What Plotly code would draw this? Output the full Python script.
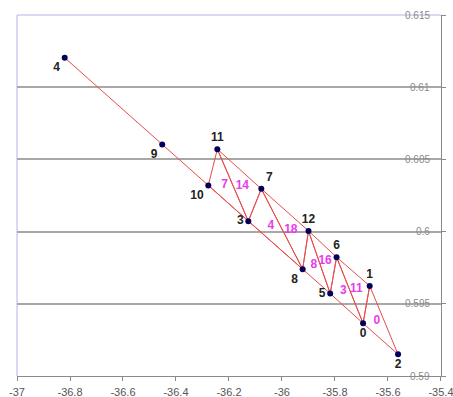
import plotly.graph_objects as go

# Node coordinates (node id -> x, y)
node_ids = [0, 1, 2, 3, 4, 5, 6, 7, 8, 9, 10, 11, 12]
node_x = [-35.694, -35.669, -35.562, -36.127, -36.820, -35.818, -35.794,
          -36.078, -35.922, -36.452, -36.278, -36.244, -35.900]
node_y = [0.59365, 0.59624, 0.59150, 0.60072, 0.61204, 0.59571, 0.59823,
          0.60296, 0.59740, 0.60604, 0.60320, 0.60571, 0.60005]

# Labelled triangles: id and their three vertex nodes
tri_ids = [0, 3, 4, 7, 8, 11, 14, 16, 18]
tri_a = [0, 5, 3, 10, 8, 6, 11, 12, 7]
tri_b = [1, 6, 7, 11, 12, 1, 3, 6, 12]
tri_c = [2, 0, 8, 3, 5, 0, 7, 5, 8]

# Thin slivers along the lower chain
sliver_from = [4, 9, 10]
sliver_to = [9, 10, 8]

# Axis ticks
x_ticks = [-37, -36.8, -36.6, -36.4, -36.2, -36, -35.8, -35.6, -35.4]
x_tick_text = ["-37", "-36.8", "-36.6", "-36.4", "-36.2", "-36", "-35.8", "-35.6", "-35.4"]
y_ticks = [0.59, 0.595, 0.6, 0.605, 0.61, 0.615]
y_tick_text = ["0.59", "0.595", "0.6", "0.605", "0.61", "0.615"]

# Where each node's number sits relative to its marker
label_side = {0: "bottom center", 1: "top center", 2: "bottom center",
              3: "middle left", 4: "bottom left", 5: "middle left",
              6: "top center", 7: "top right", 8: "bottom left",
              9: "bottom left", 10: "bottom left", 11: "top center",
              12: "top center"}

pos = {i: (x, y) for i, x, y in zip(node_ids, node_x, node_y)}

ex, ey = [], []
for a, b, c in zip(tri_a, tri_b, tri_c):
    for p, q in ((a, b), (b, c), (c, a)):
        ex += [pos[p][0], pos[q][0], None]
        ey += [pos[p][1], pos[q][1], None]
for p, q in zip(sliver_from, sliver_to):
    ex += [pos[p][0], pos[q][0], None]
    ey += [pos[p][1], pos[q][1], None]

cx = [(pos[a][0] + pos[b][0] + pos[c][0]) / 3 for a, b, c in zip(tri_a, tri_b, tri_c)]
cy = [(pos[a][1] + pos[b][1] + pos[c][1]) / 3 for a, b, c in zip(tri_a, tri_b, tri_c)]

fig = go.Figure()

fig.add_trace(go.Scatter(
    x=ex, y=ey, mode="lines",
    line=dict(color="rgb(232,75,75)", width=1),
    hoverinfo="skip", showlegend=False, cliponaxis=False))

fig.add_trace(go.Scatter(
    x=node_x, y=node_y, mode="markers+text",
    marker=dict(color="#00005a", size=6),
    text=[str(i) for i in node_ids],
    textposition=[label_side[i] for i in node_ids],
    textfont=dict(family="Liberation Sans, Arial", size=12, color="#222222"),
    texttemplate="<b>%{text}</b>",
    showlegend=False, cliponaxis=False))

fig.add_trace(go.Scatter(
    x=cx, y=cy, mode="text",
    text=[str(t) for t in tri_ids],
    texttemplate="<b>%{text}</b>",
    textfont=dict(family="Liberation Sans, Arial", size=12, color="#e83ce8"),
    showlegend=False))

# darker grid line at 0.595
fig.add_shape(type="line", xref="paper", yref="y", x0=0, x1=1, y0=0.595, y1=0.595,
              line=dict(color="#303030", width=1.5), layer="below")
# light border on left and top
fig.add_shape(type="line", xref="paper", yref="paper", x0=0, x1=0, y0=0, y1=1,
              line=dict(color="#b4b4e6", width=1), layer="below")
fig.add_shape(type="line", xref="paper", yref="paper", x0=0, x1=1, y0=1, y1=1,
              line=dict(color="#b4b4e6", width=1), layer="below")

# y tick labels sit inside the plot, right-aligned just left of the right axis
for v, t in zip(y_ticks, y_tick_text):
    fig.add_annotation(x=1, xref="paper", y=v, yref="y", text=t, showarrow=False,
                       xanchor="right", yanchor="middle", xshift=-9,
                       font=dict(family="Liberation Sans, Arial", size=10, color="#8a8a8a"))

fig.update_layout(
    width=453, height=397,
    margin=dict(l=17, r=12, t=15, b=21),
    paper_bgcolor="white", plot_bgcolor="white",
    font=dict(family="Liberation Sans, Arial", color="#555555"),
    xaxis=dict(range=[-37, -35.3999], tickvals=x_ticks, ticktext=x_tick_text,
               showgrid=False, zeroline=False, showline=True, linecolor="#8a8a8a",
               ticks="outside", ticklen=4, tickcolor="#8a8a8a", automargin=False,
               ticklabeloverflow="allow",
               tickfont=dict(size=11, color="#555555"), ticklabelstandoff=2),
    yaxis=dict(range=[0.59, 0.615], side="right", tickvals=y_ticks,
               showticklabels=False, showgrid=True, gridcolor="#a8a8a8", gridwidth=2,
               zeroline=False, showline=True, linecolor="#8a8a8a", automargin=False,
               ticks="outside", ticklen=4, tickcolor="#8a8a8a"),
)

fig.write_html("out.html")
